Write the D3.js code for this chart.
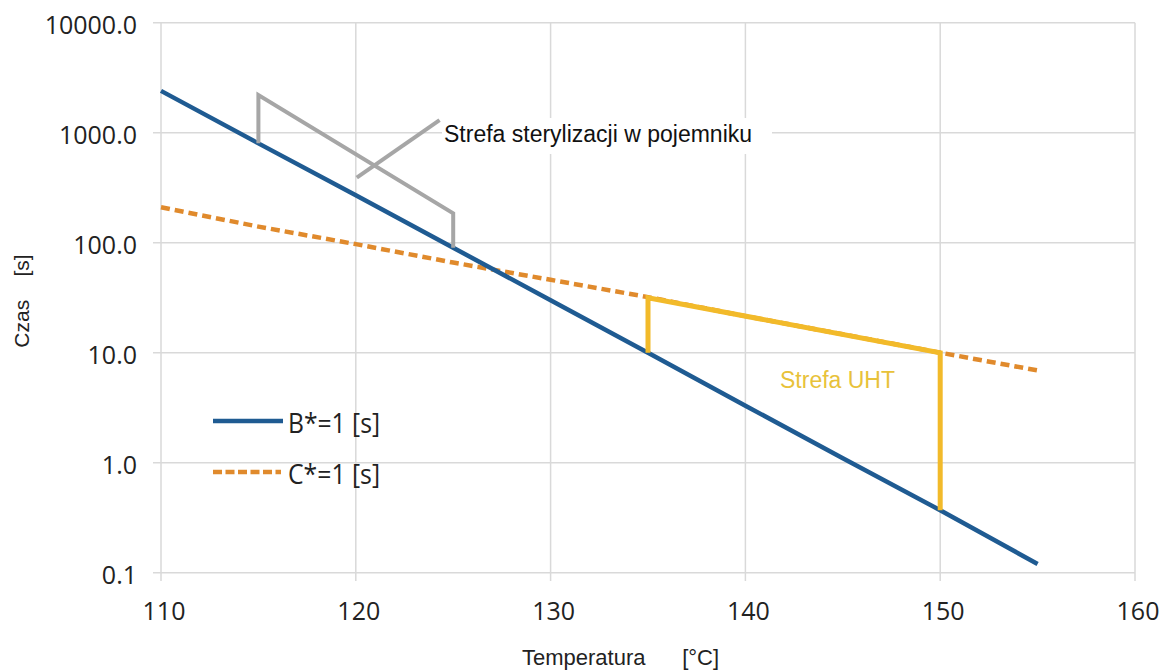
<!DOCTYPE html>
<html><head><meta charset="utf-8">
<script src="https://cdn.jsdelivr.net/npm/d3@7"></script>
<style>body{margin:0;background:#fff}svg{display:block}</style>
</head><body>
<svg id="c" width="1160" height="670"></svg>
<script>
const temps = [110,115,120,125,130,135,140,145,150,155];
const bValues = [2400,800,270,90,30,10,3.3,1.1,0.37,0.12];
const cValues = [210,140,97,66,46,32,21.5,14.7,10,6.9];
const xTicks = [110,120,130,140,150,160];
const yTicks = [0.1,1,10,100,1000,10000];
const steriZone = [[115,800],[115,2200],[125,185],[125,90]];
const steriPointer = [[120.05,390],[124.3,1300]];
const uhtZone = [[135,10],[135,31.5],[150,10],[150,0.37]];
const seriesNames = ["B*=1 [s]","C*=1 [s]"];

const svg = d3.select("#c");
const x = d3.scaleLinear().domain([110,160]).range([161,1135]);
const y = d3.scaleLog().domain([0.1,10000]).range([572.7,22.7]);
const grid = "#d9d9d9";

// gridlines
svg.append("g").selectAll("line").data(yTicks).join("line")
  .attr("x1",153).attr("x2",1135).attr("y1",d=>y(d)).attr("y2",d=>y(d))
  .attr("stroke",grid).attr("stroke-width",1.5);
svg.append("g").selectAll("line").data(xTicks).join("line")
  .attr("x1",d=>x(d)).attr("x2",d=>x(d)).attr("y1",22.7).attr("y2",581)
  .attr("stroke",grid).attr("stroke-width",1.5);

// tick labels
svg.append("g").selectAll("text").data(yTicks).join("text")
  .attr("x",137).attr("y",d=>y(d)).attr("dy","0.46em").attr("text-anchor","end")
  .attr("font-family","Open Sans").attr("font-size",25).attr("fill","#222")
  .text(d=>d3.format(".1f")(d));
svg.append("g").selectAll("text").data(xTicks).join("text")
  .attr("x",d=>x(d)+3).attr("y",620).attr("text-anchor","middle")
  .attr("font-family","Open Sans").attr("font-size",25).attr("fill","#222")
  .text(d=>d);

// axis titles
svg.append("text").attr("x",522).attr("y",665)
  .attr("font-family","Liberation Sans").attr("font-size",22).attr("fill","#222")
  .attr("xml:space","preserve").text("Temperatura      [°C]");
svg.append("text").attr("transform","translate(29,301) rotate(-90)").attr("text-anchor","middle")
  .attr("font-family","Liberation Sans").attr("font-size",21).attr("fill","#222")
  .attr("xml:space","preserve").text("Czas    [s]");

const line = d3.line().x(d=>x(d[0])).y(d=>y(d[1]));

// series
svg.append("path").datum(temps.map((t,i)=>[t,cValues[i]])).attr("d",line)
  .attr("fill","none").attr("stroke","#e08a2c").attr("stroke-width",4.5).attr("stroke-dasharray","9,5");
svg.append("path").datum(temps.map((t,i)=>[t,bValues[i]])).attr("d",line)
  .attr("fill","none").attr("stroke","#1f5b92").attr("stroke-width",4.5);

// zones
svg.append("path").datum(steriZone).attr("d",line)
  .attr("fill","none").attr("stroke","#a6a6a6").attr("stroke-width",4).attr("stroke-linejoin","miter");
svg.append("path").datum(steriPointer).attr("d",line)
  .attr("fill","none").attr("stroke","#a6a6a6").attr("stroke-width",4);
svg.append("path").datum(uhtZone).attr("d",line)
  .attr("fill","none").attr("stroke","#f2ba2a").attr("stroke-width",5);

// labels
svg.append("rect").attr("x",442).attr("y",118).attr("width",330).attr("height",36).attr("fill","#fff");
svg.append("text").attr("x",444).attr("y",142).attr("font-family","Liberation Sans").attr("font-size",23)
  .attr("fill","#111").text("Strefa sterylizacji w pojemniku");
svg.append("text").attr("x",780).attr("y",388).attr("font-family","Liberation Sans").attr("font-size",23)
  .attr("fill","#e8c23a").text("Strefa UHT");

// legend
const lg = svg.append("g");
const legendY = [421,472];
lg.append("line").attr("x1",213).attr("x2",283).attr("y1",legendY[0]).attr("y2",legendY[0])
  .attr("stroke","#1f5b92").attr("stroke-width",4.5);
lg.append("line").attr("x1",213).attr("x2",281).attr("y1",legendY[1]).attr("y2",legendY[1])
  .attr("stroke","#e08a2c").attr("stroke-width",4.5).attr("stroke-dasharray","9,3.5");
lg.selectAll("text").data(seriesNames).join("text")
  .attr("x",288).attr("y",(d,i)=>legendY[i]+11.5)
  .attr("font-family","Open Sans").attr("font-size",27).attr("fill","#222")
  .attr("textLength",92).attr("lengthAdjust","spacingAndGlyphs").text(d=>d);
</script>
</body></html>
